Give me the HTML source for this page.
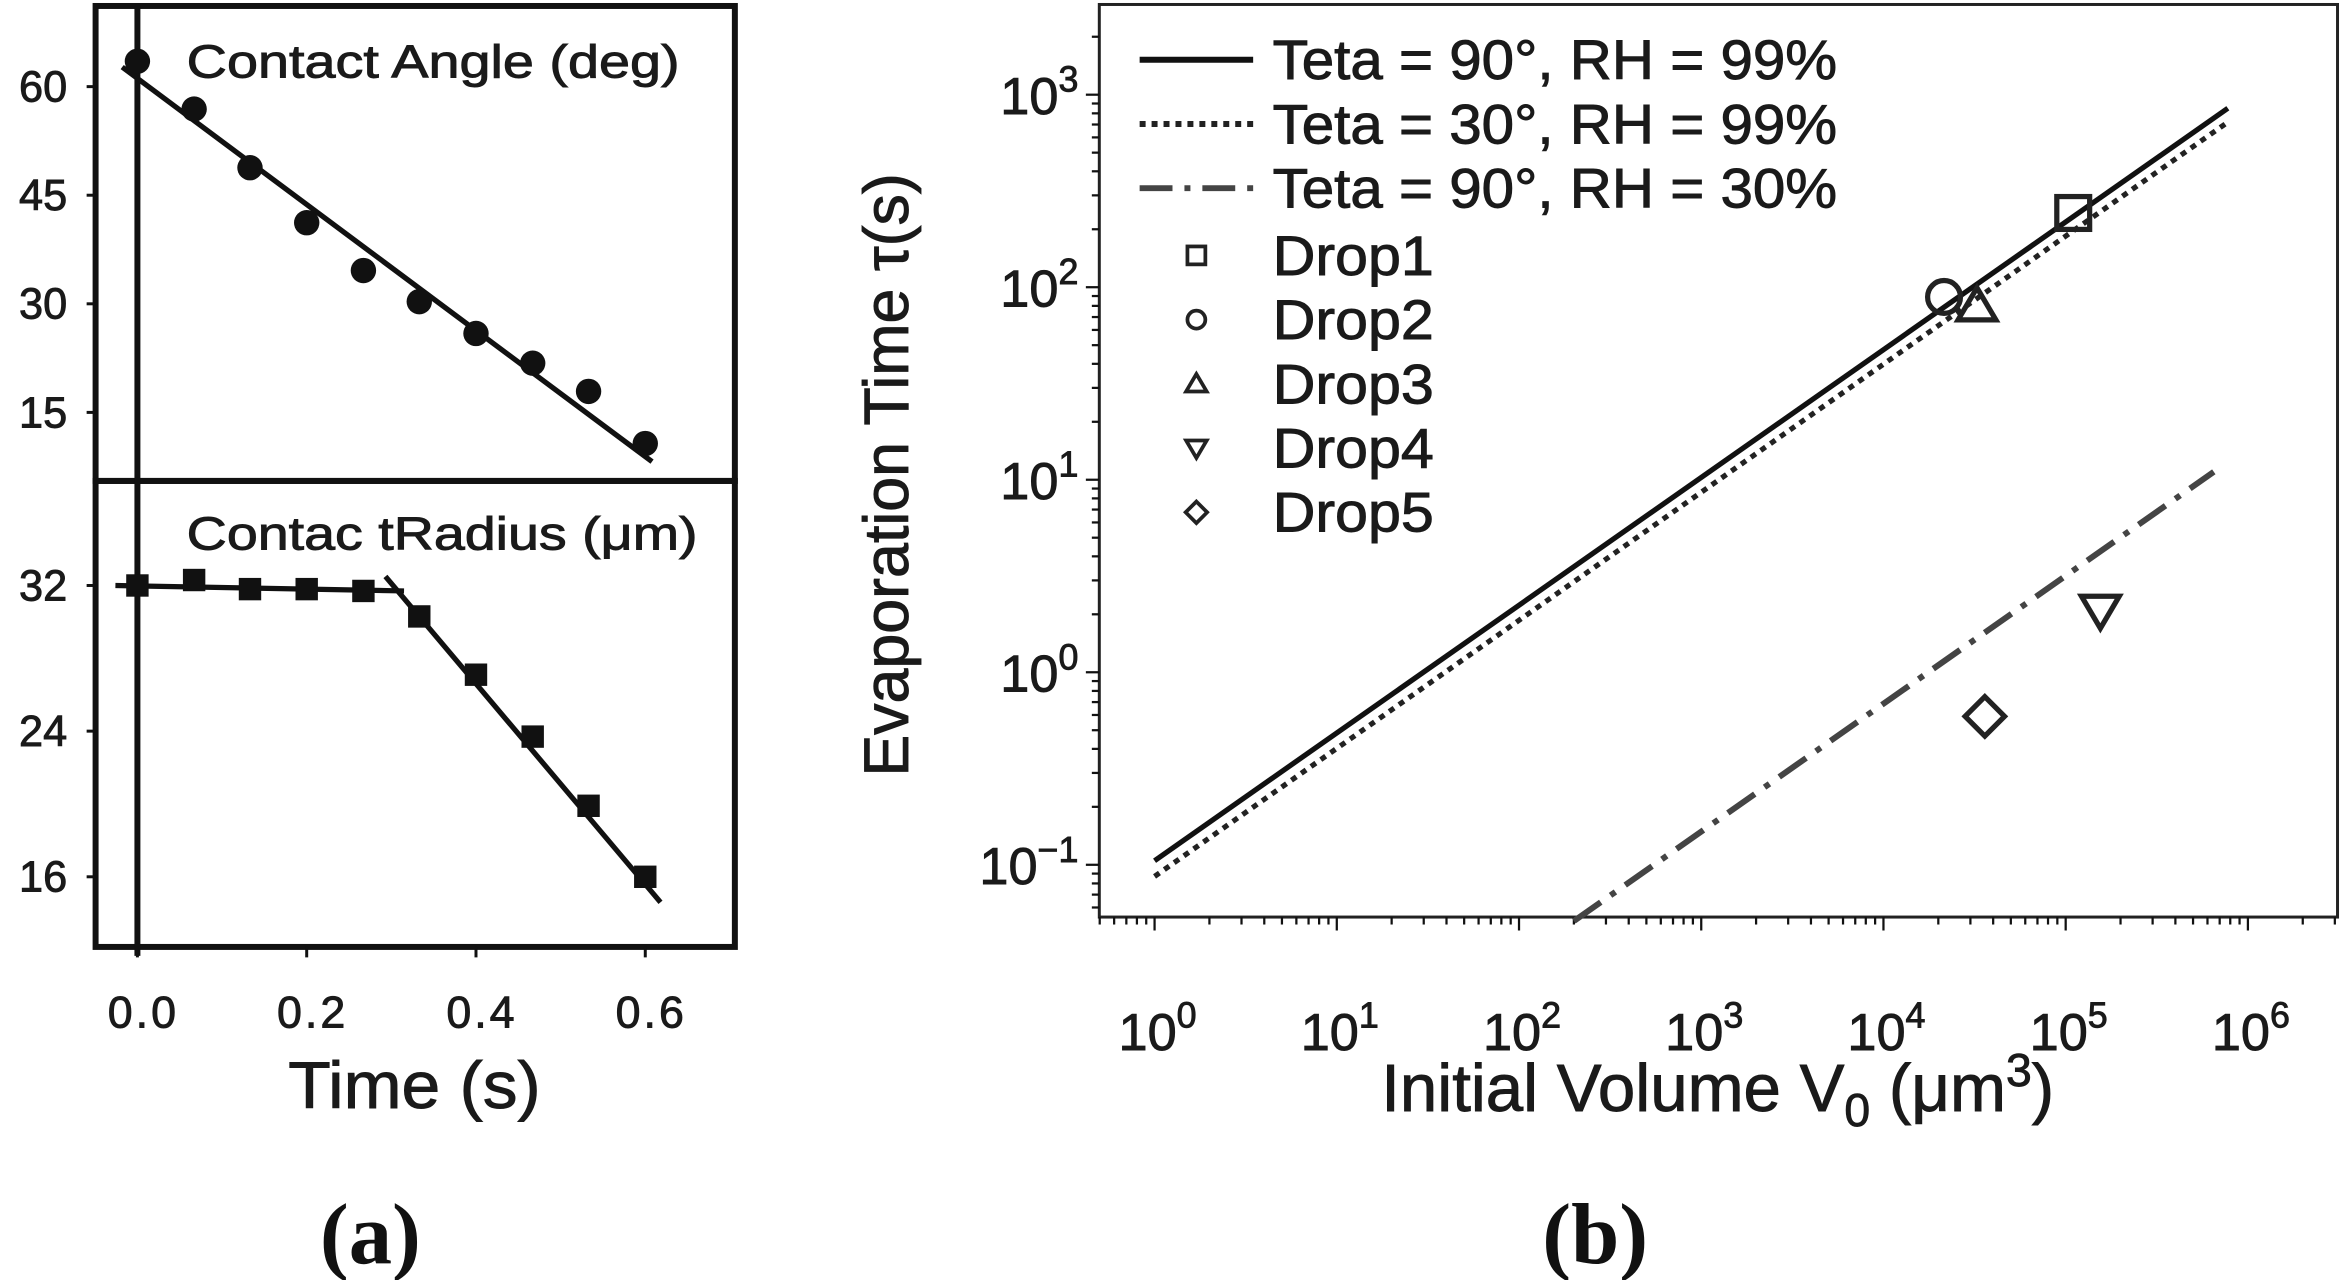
<!DOCTYPE html>
<html><head><meta charset="utf-8"><style>
html,body{margin:0;padding:0;background:#fff;}
svg{display:block;font-family:"Liberation Sans",sans-serif;}
</style></head><body>
<svg id="fig" width="2342" height="1280" viewBox="0 0 1568 857" preserveAspectRatio="none" xmlns="http://www.w3.org/2000/svg">
<rect x="0" y="0" width="1568" height="857" fill="#fff"/>
<g id="pa"></g>
<g id="pb"></g>
</svg>
<script>
// ---------- Panel (a) data ----------
const timeVals = [0, 0.067, 0.133, 0.2, 0.267, 0.333, 0.4, 0.467, 0.533, 0.6];
const angleVals = [63.5, 56.9, 48.8, 41.2, 34.6, 30.3, 25.9, 21.8, 17.9, 10.7];
const radiusVals = [32.0, 32.3, 31.8, 31.8, 31.7, 30.3, 27.1, 23.7, 19.9, 16.0];
const angleFitT = [-0.018, 0.608];
const angleFitV = [62.7, 8.2];
const radFit1T = [-0.026, 0.315];
const radFit1V = [32.0, 31.7];
const radFit2T = [0.293, 0.618];
const radFit2V = [32.5, 14.6];
const timeTicks = [0, 0.2, 0.4, 0.6];
const timeTickLabels = ["0.0", "0.2", "0.4", "0.6"];
const angleTicks = [60, 45, 30, 15];
const radiusTicks = [32, 24, 16];

// ---------- Panel (b) data ----------
const lineVol = [1, 776000];
const tau90rh99 = [0.105, 850];
const tau30rh99 = [0.087, 720];
const dashVol = [200, 650000];
const tau90rh30 = [0.051, 11];
const dropNames = ["Drop1", "Drop2", "Drop3", "Drop4", "Drop5"];
const dropVol = [110000, 21500, 32600, 155000, 36000];
const dropTau = [243, 89, 80, 2.1, 0.59];
const dropShapes = ["square", "circle", "triangle", "tridown", "diamond"];
const xDecades = [0, 1, 2, 3, 4, 5, 6];
const yDecades = [-1, 0, 1, 2, 3];
const legendLabels = ["Teta = 90°, RH = 99%", "Teta = 30°, RH = 99%", "Teta = 90°, RH = 30%"];

const NS = "http://www.w3.org/2000/svg";
function mk(parent, tag, attrs, text) {
  const e = document.createElementNS(NS, tag);
  for (const k in attrs) e.setAttribute(k, attrs[k]);
  if (text !== undefined) e.textContent = text;
  parent.appendChild(e);
  return e;
}
const pa = document.getElementById('pa');
const pb = document.getElementById('pb');
const TXT = {fill: '#1a1a1a', stroke: '#1a1a1a', 'stroke-width': 0.6};
function T(parent, attrs, text) { return mk(parent, 'text', Object.assign({}, TXT, attrs), text); }

const tx = t => 92 + t * 566.7;
const ay = v => 58 + (60 - v) * 4.847;
const ry = v => 392 + (32 - v) * 12.19;

let el;
el = mk(pa, 'rect', {x: 64, y: 4, width: 428, height: 318, fill: 'none', stroke: '#111', 'stroke-width': 4});


el = mk(pa, 'rect', {x: 64, y: 322, width: 428, height: 312, fill: 'none', stroke: '#111', 'stroke-width': 4});


el = mk(pa, 'line', {x1: tx(0), y1: 4, x2: tx(0), y2: 640, stroke: '#111', 'stroke-width': 4});



angleTicks.forEach(v => {
  el = mk(pa, 'line', {x1: 58, y1: ay(v), x2: 64, y2: ay(v), stroke: '#111', 'stroke-width': 2});
  
  
  el = T(pa, {x: 45, y: ay(v) + 10, 'text-anchor': 'end', 'font-size': 29}, String(v));
  
  
});
radiusTicks.forEach(v => {
  el = mk(pa, 'line', {x1: 58, y1: ry(v), x2: 64, y2: ry(v), stroke: '#111', 'stroke-width': 2});
  
  
  el = T(pa, {x: 45, y: ry(v) + 10, 'text-anchor': 'end', 'font-size': 29}, String(v));
  
  
});
timeTicks.forEach((t, i) => {
  el = mk(pa, 'line', {x1: tx(t), y1: 634, x2: tx(t), y2: 641, stroke: '#111', 'stroke-width': 2});
  
  
  el = T(pa, {x: tx(t) + 4, y: 688, 'text-anchor': 'middle', 'font-size': 30, 'letter-spacing': 2}, timeTickLabels[i]);
  
  
});
el = T(pa, {x: 193, y: 742, 'font-size': 44, textLength: 169, lengthAdjust: 'spacingAndGlyphs'}, 'Time (s)');


el = T(pa, {x: 125, y: 52, 'font-size': 31, textLength: 330, lengthAdjust: 'spacingAndGlyphs'}, 'Contact Angle (deg)');


el = T(pa, {x: 125, y: 368, 'font-size': 31, textLength: 342, lengthAdjust: 'spacingAndGlyphs'}, 'Contac tRadius (μm)');


el = mk(pa, 'text', {x: 248, y: 846, 'text-anchor': 'middle', 'font-size': 58, 'font-weight': 'bold', 'font-family': '"Liberation Serif",serif', fill: '#111'}, '(a)');



el = mk(pa, 'line', {x1: tx(angleFitT[0]), y1: ay(angleFitV[0]), x2: tx(angleFitT[1]), y2: ay(angleFitV[1]), stroke: '#111', 'stroke-width': 3.5});


el = mk(pa, 'line', {x1: tx(radFit1T[0]), y1: ry(radFit1V[0]), x2: tx(radFit1T[1]), y2: ry(radFit1V[1]), stroke: '#111', 'stroke-width': 3.5});


el = mk(pa, 'line', {x1: tx(radFit2T[0]), y1: ry(radFit2V[0]), x2: tx(radFit2T[1]), y2: ry(radFit2V[1]), stroke: '#111', 'stroke-width': 3.5});


timeVals.forEach((t, i) => {
  el = mk(pa, 'circle', {cx: tx(t), cy: ay(angleVals[i]), r: 8.5, fill: '#111'});
  
  
  el = mk(pa, 'rect', {x: tx(t) - 7.5, y: ry(radiusVals[i]) - 7.5, width: 15, height: 15, fill: '#111'});
  
  
});

// ---------- Panel b ----------
const bx = v => 773 + Math.log10(v) * 122;
const by = v => 579 - (Math.log10(v) + 1) * 128.9;
const L = 736, R = 1565, Tp = 3, B = 614;
el = mk(pb, 'rect', {x: L, y: Tp, width: R - L, height: B - Tp, fill: 'none', stroke: '#222', 'stroke-width': 2});



for (let d = -1; d <= 6; d++) {
  for (let m = 1; m <= 9; m++) {
    const x = bx(m * Math.pow(10, d));
    if (x < L || x > R) continue;
    el = mk(pb, 'line', {x1: x, y1: B, x2: x, y2: B + (m === 1 ? 9 : 5), stroke: '#111', 'stroke-width': 1.5});
    
    
  }
}
for (let d = -2; d <= 4; d++) {
  for (let m = 1; m <= 9; m++) {
    const y = by(m * Math.pow(10, d));
    if (y < Tp || y > B) continue;
    el = mk(pb, 'line', {x1: L - (m === 1 ? 9 : 5), y1: y, x2: L, y2: y, stroke: '#111', 'stroke-width': 1.5});
    
    
  }
}
xDecades.forEach(d => {
  const t = T(pb, {x: bx(Math.pow(10, d)) + 2, y: 703, 'text-anchor': 'middle', 'font-size': 35});
  
  
  mk(t, 'tspan', {}, '10');
  mk(t, 'tspan', {dy: -15, 'font-size': 24}, String(d));
});
yDecades.forEach(d => {
  const t = T(pb, {x: 722, y: by(Math.pow(10, d)) + 13, 'text-anchor': 'end', 'font-size': 35});
  
  
  mk(t, 'tspan', {}, '10');
  mk(t, 'tspan', {dy: -15, 'font-size': 24}, d < 0 ? '−' + (-d) : String(d));
});
el = T(pb, {x: 1150, y: 744, 'text-anchor': 'middle', 'font-size': 45});


mk(el, 'tspan', {}, 'Initial Volume V');
mk(el, 'tspan', {dy: 10, 'font-size': 31}, '0');
mk(el, 'tspan', {dy: -10}, ' (μm');
mk(el, 'tspan', {dy: -17, 'font-size': 31}, '3');
mk(el, 'tspan', {dy: 17}, ')');
el = T(pb, {x: 0, y: 0, 'text-anchor': 'middle', 'font-size': 42, transform: 'translate(608,318) rotate(-90)'}, 'Evaporation Time τ(s)');


el = mk(pb, 'text', {x: 1068, y: 846, 'text-anchor': 'middle', 'font-size': 58, 'font-weight': 'bold', 'font-family': '"Liberation Serif",serif', fill: '#111'}, '(b)');



el = mk(pb, 'line', {x1: bx(lineVol[0]), y1: by(tau90rh99[0]), x2: bx(lineVol[1]), y2: by(tau90rh99[1]), stroke: '#111', 'stroke-width': 3.5});


el = mk(pb, 'line', {x1: bx(lineVol[0]), y1: by(tau30rh99[0]), x2: bx(lineVol[1]), y2: by(tau30rh99[1]), stroke: '#222', 'stroke-width': 3.5, 'stroke-dasharray': '4 4'});


el = mk(pb, 'line', {x1: bx(dashVol[0]), y1: by(tau90rh30[0]), x2: bx(dashVol[1]), y2: by(tau90rh30[1]), stroke: '#444', 'stroke-width': 4, 'stroke-dasharray': '22 8 4 8'});



function marker(parent, shape, cx, cy, s, sw) {
  if (shape === 'square') return mk(parent, 'rect', {x: cx - s, y: cy - s, width: 2 * s, height: 2 * s, fill: 'none', stroke: '#222', 'stroke-width': sw});
  if (shape === 'circle') return mk(parent, 'circle', {cx: cx, cy: cy, r: s, fill: 'none', stroke: '#222', 'stroke-width': sw});
  if (shape === 'triangle') return mk(parent, 'polygon', {points: `${cx},${cy - s * 1.1} ${cx - s * 1.15},${cy + s * 0.85} ${cx + s * 1.15},${cy + s * 0.85}`, fill: 'none', stroke: '#222', 'stroke-width': sw});
  if (shape === 'tridown') return mk(parent, 'polygon', {points: `${cx},${cy + s * 1.1} ${cx - s * 1.15},${cy - s * 0.85} ${cx + s * 1.15},${cy - s * 0.85}`, fill: 'none', stroke: '#222', 'stroke-width': sw});
  return mk(parent, 'polygon', {points: `${cx},${cy - s * 1.2} ${cx + s * 1.2},${cy} ${cx},${cy + s * 1.2} ${cx - s * 1.2},${cy}`, fill: 'none', stroke: '#222', 'stroke-width': sw});
}
dropVol.forEach((v, i) => {
  const m = marker(pb, dropShapes[i], bx(v), by(dropTau[i]), 11, 3.5);
  
  
});

const legY = [40, 83, 126];
const legStyles = [{stroke: '#111', d: ''}, {stroke: '#222', d: '4 4'}, {stroke: '#444', d: '22 8 4 8'}];
legendLabels.forEach((lab, i) => {
  const ln = mk(pb, 'line', {x1: 763, y1: legY[i], x2: 839, y2: legY[i], stroke: legStyles[i].stroke, 'stroke-width': 4});
  if (legStyles[i].d) ln.setAttribute('stroke-dasharray', legStyles[i].d);
  
  
  const tt = T(pb, {x: 852, y: legY[i] + 13, 'font-size': 37, textLength: 378, lengthAdjust: 'spacingAndGlyphs'}, lab);
  
  
});
const dropLegY = [171, 214, 257, 300, 343];
dropNames.forEach((n, i) => {
  const m = marker(pb, dropShapes[i], 801, dropLegY[i], 6, 2.5);
  
  
  const tt = T(pb, {x: 852, y: dropLegY[i] + 13, 'font-size': 37, textLength: 108, lengthAdjust: 'spacingAndGlyphs'}, n);
  
  
});
</script>
</body></html>
